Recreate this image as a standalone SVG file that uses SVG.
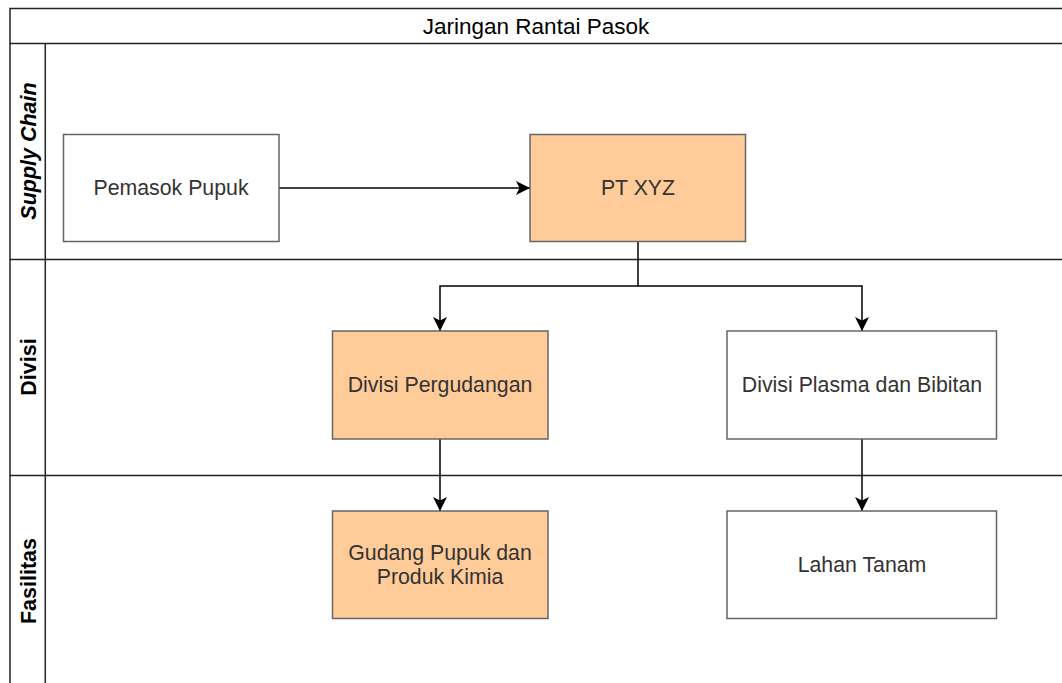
<svg xmlns="http://www.w3.org/2000/svg" width="1062" height="683" viewBox="0 0 1062 683">
  <style>
    .pool { fill: #ffffff; stroke: #222222; stroke-width: 1.5; }
    .lane { fill: none; stroke: #222222; stroke-width: 1.5; }
    .box { stroke: #666666; stroke-width: 1.5; }
    .white { fill: #ffffff; }
    .orange { fill: #ffcc99; }
    .txt { font-family: "Liberation Sans", Arial, sans-serif; font-size: 21.3px; fill: #333333; text-anchor: middle; dominant-baseline: central; }
    .head { font-family: "Liberation Sans", Arial, sans-serif; font-size: 22.5px; fill: #000000; text-anchor: middle; dominant-baseline: central; }
    .lbl { font-family: "Liberation Sans", Arial, sans-serif; font-size: 21.5px; font-weight: bold; fill: #000000; text-anchor: middle; dominant-baseline: central; }
    .edge { fill: none; stroke: #000000; stroke-width: 1.5; }
  </style>
  <defs>
    <marker id="arrow" viewBox="0 0 14 14" refX="14" refY="7" markerWidth="14" markerHeight="14" markerUnits="userSpaceOnUse" orient="auto">
      <path d="M0,0 L14,7 L0,14 L3.5,7 Z" fill="#000000"/>
    </marker>
  </defs>
  <rect width="1062" height="683" fill="#ffffff"/>

  <g id="pool">
    <rect class="pool" x="10" y="8.5" width="1070" height="690"/>
    <line class="lane" x1="10" y1="43.5" x2="1080" y2="43.5"/>
    <text class="head" x="536" y="26">Jaringan Rantai Pasok</text>
  </g>

  <g id="lane-supply-chain">
    <line class="lane" x1="45.3" y1="43.5" x2="45.3" y2="698"/>
    <line class="lane" x1="10" y1="259.5" x2="1080" y2="259.5"/>
    <text class="lbl" font-style="italic" transform="translate(29,151) rotate(-90)">Supply Chain</text>
  </g>

  <g id="lane-divisi">
    <line class="lane" x1="10" y1="475.5" x2="1080" y2="475.5"/>
    <text class="lbl" transform="translate(29,367) rotate(-90)">Divisi</text>
  </g>

  <g id="lane-fasilitas">
    <text class="lbl" transform="translate(29,581) rotate(-90)">Fasilitas</text>
  </g>

  <g id="connectors">
    <path class="edge" d="M279,188 L530,188" marker-end="url(#arrow)"/>
    <path class="edge" d="M638,241.5 L638,286 L440,286 L440,331" marker-end="url(#arrow)"/>
    <path class="edge" d="M638,286 L862,286 L862,331" marker-end="url(#arrow)"/>
    <path class="edge" d="M440,439 L440,511" marker-end="url(#arrow)"/>
    <path class="edge" d="M862,439 L862,511" marker-end="url(#arrow)"/>
  </g>

  <g id="node-pemasok-pupuk">
    <rect class="box white" x="63.5" y="134.5" width="215.5" height="107"/>
    <text class="txt" x="171" y="188">Pemasok Pupuk</text>
  </g>

  <g id="node-pt-xyz">
    <rect class="box orange" x="530" y="134.5" width="215.5" height="107"/>
    <text class="txt" x="638" y="188">PT XYZ</text>
  </g>

  <g id="node-divisi-pergudangan">
    <rect class="box orange" x="332.5" y="331" width="215.5" height="108"/>
    <text class="txt" x="440" y="385">Divisi Pergudangan</text>
  </g>

  <g id="node-divisi-plasma">
    <rect class="box white" x="727" y="331" width="269.5" height="108"/>
    <text class="txt" x="862" y="385">Divisi Plasma dan Bibitan</text>
  </g>

  <g id="node-gudang">
    <rect class="box orange" x="332.5" y="511" width="215.5" height="107.5"/>
    <text class="txt" x="440" y="552.5">Gudang Pupuk dan</text>
    <text class="txt" x="440" y="576.5">Produk Kimia</text>
  </g>

  <g id="node-lahan-tanam">
    <rect class="box white" x="727" y="511" width="269.5" height="107.5"/>
    <text class="txt" x="862" y="564.5">Lahan Tanam</text>
  </g>
</svg>
